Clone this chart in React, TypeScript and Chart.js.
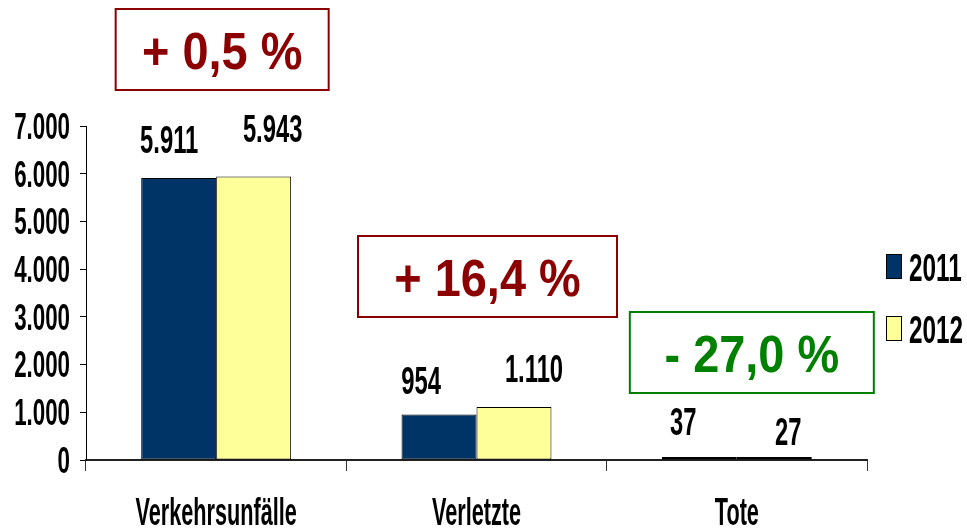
import React, { useEffect, useRef } from "react";
import { Chart, registerables } from "chart.js";

Chart.register(...registerables);

// ---------- data ----------
const CATEGORIES = ["Verkehrsunfälle", "Verletzte", "Tote"];
const SERIES_NAMES = ["2011", "2012"];
const VALUES_2011 = [5911, 954, 37];
const VALUES_2012 = [5943, 1110, 27];
const CHANGE_LABELS = ["+ 0,5 %", "+ 16,4 %", "- 27,0 %"];
const Y_MAX = 7000;
const Y_STEP = 1000;

// ---------- style ----------
const SERIES_COLORS = ["#003366", "#FFFF99"];
const CHANGE_COLORS = ["#8B0000", "#8B0000", "#008000"];
const BAR_BORDER_WIDTHS = [1, 1, 2];
const LABEL_DX = [[-9.5, 19], [-18, 20], [-16, 14]];
const LABEL_DY = [[39, 48], [34, 39], [36, 26]];
const BOX_DX = [6, 11, 15];
const BOX_CY = [-76.5, 150.5, 226.5];
const BOX_W = [213, 259, 244];
const BOX_H = 81;
const FONT = '"Liberation Sans", Arial, sans-serif';

function fmt(n: number): string {
  return String(n).replace(/\B(?=(\d{3})+(?!\d))/g, ".");
}

function condText(
  ctx: CanvasRenderingContext2D,
  text: string,
  x: number,
  centerY: number,
  size: number,
  sx: number,
  align: CanvasTextAlign,
  color: string
) {
  ctx.save();
  ctx.font = `bold ${size}px ${FONT}`;
  ctx.fillStyle = color;
  ctx.textAlign = align;
  ctx.textBaseline = "alphabetic";
  ctx.translate(x, centerY + 0.358 * size);
  ctx.scale(sx, 1);
  ctx.fillText(text, 0, 0);
  ctx.restore();
}

const textPlugin = {
  id: "customText",
  afterDraw(chart: any) {
    const { ctx, chartArea, scales } = chart;
    const xs = scales.x;
    const ys = scales.y;

    // y tick labels
    ys.ticks.forEach((t: any, i: number) => {
      const py = ys.getPixelForTick(i);
      condText(ctx, fmt(t.value), chartArea.left - 16, py, 36, 0.62, "right", "#000");
    });

    // category labels
    xs.ticks.forEach((_t: any, i: number) => {
      const px = xs.getPixelForTick(i);
      condText(ctx, String(CATEGORIES[i]), px, chartArea.bottom + 51, 38, 0.57, "center", "#000");
    });

    // value labels
    chart.data.datasets.forEach((ds: any, di: number) => {
      const meta = chart.getDatasetMeta(di);
      meta.data.forEach((el: any, i: number) => {
        condText(
          ctx,
          fmt(ds.data[i]),
          el.x + LABEL_DX[i][di],
          el.y - LABEL_DY[i][di],
          39,
          0.61,
          "center",
          "#000"
        );
      });
    });

    // change boxes
    CHANGE_LABELS.forEach((lab, i) => {
      const cx = xs.getPixelForValue(i) + BOX_DX[i];
      const cy = chartArea.top + BOX_CY[i];
      ctx.save();
      ctx.strokeStyle = CHANGE_COLORS[i];
      ctx.lineWidth = 2;
      ctx.strokeRect(cx - BOX_W[i] / 2, cy - BOX_H / 2, BOX_W[i], BOX_H);
      ctx.restore();
      condText(ctx, lab, cx, cy + 1, 51, 0.92, "center", CHANGE_COLORS[i]);
    });

    // legend
    const legX = chartArea.right + 19;
    const midY = (chartArea.top + chartArea.bottom) / 2 + 4.5;
    chart.data.datasets.forEach((ds: any, di: number) => {
      const cy = midY + (di === 0 ? -31 : 31);
      ctx.save();
      ctx.fillStyle = ds.backgroundColor;
      ctx.fillRect(legX, cy - 12.5, 16, 25);
      ctx.strokeStyle = "#000";
      ctx.lineWidth = 1;
      ctx.strokeRect(legX + 0.5, cy - 12.5 + 0.5, 15, 24);
      ctx.restore();
      condText(ctx, ds.label, legX + 23, cy + 1, 38, 0.64, "left", "#000");
    });
  },
};

export default function App() {
  const ref = useRef<HTMLCanvasElement | null>(null);

  useEffect(() => {
    document.body.style.margin = "0";
    const canvas = ref.current;
    if (!canvas) return;
    const chart = new Chart(canvas, {
      type: "bar",
      data: {
        labels: CATEGORIES,
        datasets: [
          {
            label: SERIES_NAMES[0],
            data: VALUES_2011,
            backgroundColor: SERIES_COLORS[0],
            borderColor: "#000",
            borderWidth: BAR_BORDER_WIDTHS,
            borderSkipped: false,
            minBarLength: 3,
          },
          {
            label: SERIES_NAMES[1],
            data: VALUES_2012,
            backgroundColor: SERIES_COLORS[1],
            borderColor: "#000",
            borderWidth: BAR_BORDER_WIDTHS,
            borderSkipped: false,
            minBarLength: 3,
          },
        ],
      },
      options: {
        responsive: false,
        animation: false,
        devicePixelRatio: 1,
        layout: { padding: { top: 126, right: 100, left: 0, bottom: 0 } },
        datasets: { bar: { categoryPercentage: 0.576, barPercentage: 1 } },
        plugins: {
          legend: { display: false },
          tooltip: { enabled: false },
          title: { display: false },
        },
        scales: {
          x: {
            grid: {
              drawOnChartArea: false,
              drawTicks: true,
              tickLength: 11,
              color: "#333",
              offset: true,
            },
            border: { display: true, color: "#222", width: 2 },
            ticks: { display: false },
            afterFit: (s: any) => {
              s.height = 69;
            },
          },
          y: {
            min: 0,
            max: Y_MAX,
            ticks: { stepSize: Y_STEP, display: false },
            grid: { drawOnChartArea: false, drawTicks: true, tickLength: 6, color: "#000" },
            border: { display: true, color: "#000", width: 1 },
            afterFit: (s: any) => {
              s.width = 86;
            },
          },
        },
      } as any,
      plugins: [textPlugin],
    });
    return () => chart.destroy();
  }, []);

  return (
    <div style={{ position: "absolute", left: 0, top: 0, width: 967, height: 529, background: "#fff" }}>
      <canvas ref={ref} width={967} height={529} style={{ display: "block" }} />
    </div>
  );
}
